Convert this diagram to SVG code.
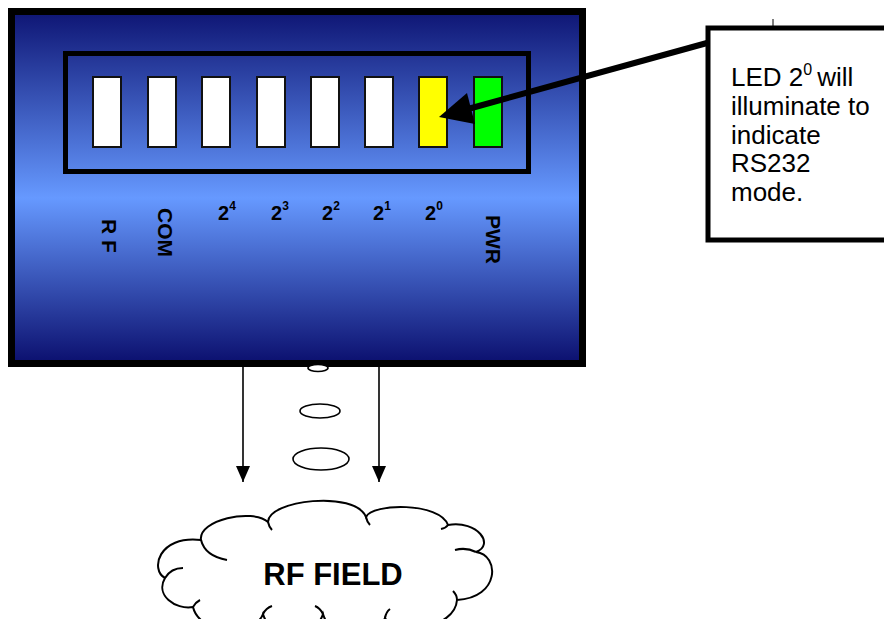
<svg xmlns="http://www.w3.org/2000/svg" width="884" height="619" viewBox="0 0 884 619">
  <defs>
    <linearGradient id="panelGrad" x1="0" y1="0" x2="0" y2="1">
      <stop offset="0" stop-color="#0e1574"/>
      <stop offset="0.53" stop-color="#6699ff"/>
      <stop offset="1" stop-color="#0b0f6e"/>
    </linearGradient>
    <!-- solid triangular head, drawn along +x so orient="auto" follows the line -->
    <marker id="arrowDown" viewBox="0 0 16 14" refX="16" refY="7" markerWidth="16" markerHeight="14" markerUnits="userSpaceOnUse" orient="auto">
      <path d="M0,0 L16,7 L0,14 Z" fill="#000"/>
    </marker>
    <style>
      .led { stroke: #111; stroke-width: 2; }
      .lbl { font-family: "Liberation Sans", Arial, sans-serif; font-weight: bold; fill: #000; }
      .num { font-size: 20px; }
      .sup { font-size: 12px; }
      .vert { font-size: 21px; }
      .note { font-family: "Liberation Sans", Arial, sans-serif; font-size: 26px; fill: #000; }
      .cloud { fill: #fff; stroke: #000; stroke-width: 2; }
      .cloudArc { fill: none; stroke: #000; stroke-width: 2; }
      .link { stroke: #000; stroke-width: 1.6; fill: none; }
      .ring { fill: #fff; stroke: #000; stroke-width: 1.6; }
    </style>
  </defs>

  <rect width="884" height="619" fill="#fff"/>

  <!-- reader unit -->
  <g id="reader">
    <rect x="11.5" y="11.5" width="571" height="352" fill="url(#panelGrad)" stroke="#000" stroke-width="7"/>
    <rect x="65.5" y="53.5" width="463" height="118" fill="none" stroke="#000" stroke-width="5"/>
  </g>

  <!-- indicator LEDs -->
  <g id="leds">
    <rect class="led" x="93" y="77" width="28" height="70" fill="#fff"/>
    <rect class="led" x="148" y="77" width="28" height="70" fill="#fff"/>
    <rect class="led" x="202" y="77" width="28" height="70" fill="#fff"/>
    <rect class="led" x="257" y="77" width="28" height="70" fill="#fff"/>
    <rect class="led" x="311" y="77" width="28" height="70" fill="#fff"/>
    <rect class="led" x="365" y="77" width="28" height="70" fill="#fff"/>
    <rect class="led" x="419" y="77" width="28" height="70" fill="#ffff00"/>
    <rect class="led" x="474" y="77" width="28" height="70" fill="#00ff00"/>
  </g>

  <!-- LED labels -->
  <g id="led-labels" class="lbl">
    <text class="vert" transform="translate(102,219) rotate(90)">R F</text>
    <text class="vert" transform="translate(158,208) rotate(90)">COM</text>
    <text class="num" x="218" y="220">2<tspan class="sup" dy="-10">4</tspan></text>
    <text class="num" x="271" y="220">2<tspan class="sup" dy="-10">3</tspan></text>
    <text class="num" x="322" y="220">2<tspan class="sup" dy="-10">2</tspan></text>
    <text class="num" x="373" y="220">2<tspan class="sup" dy="-10">1</tspan></text>
    <text class="num" x="425" y="220">2<tspan class="sup" dy="-10">0</tspan></text>
    <text class="vert" transform="translate(486,215) rotate(90)">PWR</text>
  </g>

  <!-- callout note -->
  <g id="note">
    <line x1="773" y1="19" x2="773" y2="27" stroke="#000" stroke-width="1"/>
    <rect x="708" y="28" width="190" height="212" fill="#fff" stroke="#000" stroke-width="5"/>
    <text class="note" x="731" y="86">LED 2<tspan font-size="16" dy="-11">0</tspan><tspan dy="11" dx="5">will</tspan></text>
    <text class="note" x="731" y="115">illuminate to</text>
    <text class="note" x="731" y="144">indicate</text>
    <text class="note" x="731" y="172">RS232</text>
    <text class="note" x="731" y="201">mode.</text>
  </g>

  <!-- RF field cloud -->
  <g id="rf-field">
    <path class="cloud" d="M201,540 C198,520 252,508 268,522 C268,500 355,490 366,517 C372,503 440,502 448,525 C478,520 495,545 476,552 C500,555 500,598 457,600 C455,630 395,635 385,618 C375,640 330,640 323,614 C315,640 270,640 263,614 C255,636 200,636 193,607 C175,610 155,595 165,578 C150,570 158,535 201,540 Z"/>
    <path class="cloudArc" d="M201,540 Q205,556 227,560 M268,522 Q269,527 272,530 M366,517 Q367,522 370,525 M448,525 Q446,528 441,529 M476,552 Q466,547 455,550 M165,578 Q171,568 183,568 M457,600 Q457,595 453,591 M385,618 Q386,612 390,609 M323,614 Q320,608 315,606 M263,614 Q266,608 272,606 M193,607 Q196,602 200,600"/>
    <text class="lbl" x="333" y="585" font-size="31" text-anchor="middle">RF FIELD</text>
  </g>

  <!-- connectors -->
  <g id="connectors">
    <line x1="707" y1="43" x2="468" y2="109" stroke="#000" stroke-width="6"/>
    <polygon points="439,117 467,93 475,124" fill="#000"/>
    <line class="link" x1="243" y1="367" x2="243" y2="482" marker-end="url(#arrowDown)"/>
    <line class="link" x1="379" y1="367" x2="379" y2="482" marker-end="url(#arrowDown)"/>
    <ellipse class="ring" cx="318" cy="368" rx="10" ry="3.5"/>
    <ellipse class="ring" cx="320" cy="411" rx="20" ry="7"/>
    <ellipse class="ring" cx="321" cy="459" rx="28" ry="11"/>
  </g>
</svg>
